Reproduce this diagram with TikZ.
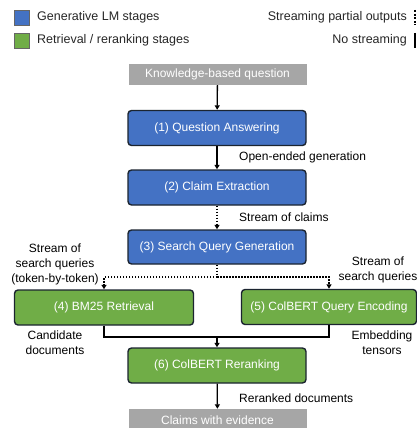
\documentclass[tikz,border=0pt]{standalone}
\usepackage{fontspec}
\setmainfont{Liberation Sans}
\usetikzlibrary{arrows.meta}
\definecolor{lmblue}{HTML}{4472C4}
\definecolor{retgreen}{HTML}{70AD47}
\definecolor{iogray}{HTML}{A6A6A6}
\definecolor{edgedark}{HTML}{1B2430}
\tikzset{
  stage/.style={draw=edgedark, line width=1.4pt, rounded corners=3.5pt, text=white,
    minimum width=178pt, minimum height=35pt, font=\fontsize{12}{14}\selectfont},
  lmstage/.style={stage, fill=lmblue},
  retstage/.style={stage, fill=retgreen},
  iobox/.style={fill=iogray, text=white, minimum width=178pt, minimum height=21pt,
    font=\fontsize{12}{14}\selectfont},
  lbl/.style={font=\fontsize{12}{15}\selectfont, align=center, inner sep=0pt},
  leg/.style={font=\fontsize{12.5}{15}\selectfont, inner sep=0pt, text=black!85},
  flow/.style={line width=1.3pt, -{Triangle[width=5pt,length=4.5pt]}},
  stream/.style={flow, dash pattern=on 1.5pt off 1.5pt},
  swatch/.style={minimum size=15pt, inner sep=0pt, draw=black!60, line width=0.6pt}
}
\begin{document}
\begin{tikzpicture}[x=1pt,y=-1pt]
\useasboundingbox (0,0) rectangle (417,428);

\node[swatch, fill=lmblue] (kb) at (21.5,17.5) {};
\node[swatch, fill=retgreen] (kg) at (21.5,40.5) {};
\node[leg, anchor=west] (tb) at (37,17.5) {Generative LM stages};
\node[leg, anchor=west] (tg) at (37,40.5) {Retrieval / reranking stages};
\node[leg, anchor=east] (ts) at (407,17.5) {Streaming partial outputs};
\node[leg, anchor=east] (tn) at (407,40.5) {No streaming};
\coordinate (ds1) at (415,10); \coordinate (ds2) at (415,25);
\coordinate (ns1) at (415,33); \coordinate (ns2) at (415,48);
\draw[line width=2pt, dash pattern=on 2pt off 1.6pt] (ds1) -- (ds2);
\draw[line width=2pt] (ns1) -- (ns2);

\node[iobox] (qin) at (217.5,74.5) {Knowledge-based question};
\node[lmstage] (s1) at (217,128) {(1) Question Answering};
\node[lmstage] (s2) at (217,187.5) {(2) Claim Extraction};
\node[lmstage, minimum height=34pt] (s3) at (217,247) {(3) Search Query Generation};
\node[retstage, minimum width=179pt] (s4) at (104,307.5) {(4) BM25 Retrieval};
\node[retstage, minimum width=175pt] (s5) at (329,307) {(5) ColBERT Query Encoding};
\node[retstage] (s6) at (217,365.5) {(6) ColBERT Reranking};
\node[iobox, minimum height=22pt] (qout) at (217.5,420) {Claims with evidence};

\coordinate (split) at (217,277);
\coordinate (merge) at (217,337);

\foreach \a/\b in {qin/s1, s1/s2, s6/qout}
\draw[flow] (\a) -- (\b);
\draw[stream] (s2) -- (s3);
\draw[line width=1.3pt, dash pattern=on 1.5pt off 1.5pt] (s3.south) -- (split);
\draw[stream] (split) -| (s4.north);
\draw[stream] (split) -| (s5.north);
\draw[line width=1.3pt] (s4.south) |- (merge) -| (s5.south);
\draw[flow] (merge) -- (s6);

\node[lbl, anchor=west] (l12) at (239,157) {Open-ended generation};
\node[lbl, anchor=west] (l23) at (239,217) {Stream of claims};
\node[lbl] (l34) at (55,264.5) {Stream of\\search queries\\(token-by-token)};
\node[lbl] (l35) at (378,269.5) {Stream of\\search queries};
\node[lbl] (l46) at (55,343) {Candidate\\documents};
\node[lbl] (l56) at (382,343) {Embedding\\tensors};
\node[lbl, anchor=west] (l6o) at (239,398) {Reranked documents};
\end{tikzpicture}
\end{document}
